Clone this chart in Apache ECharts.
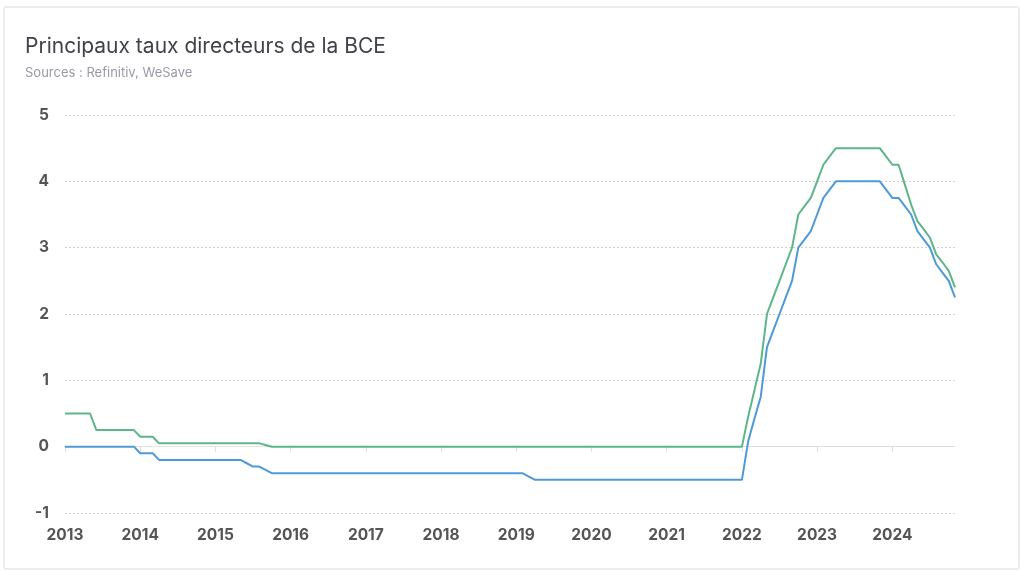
<!DOCTYPE html>
<html>
<head>
<meta charset="utf-8">
<script src="https://cdn.jsdelivr.net/npm/echarts@6/dist/echarts.min.js"></script>
<style>
	html, body { margin: 0; padding: 0; background: #fff; }
	#cadre { position: absolute; left: 3px; top: 6px; width: 1013px; height: 560px;
		border: 2px solid #ececec; border-radius: 3px; }
	#main { position: absolute; left: 0; top: 0; width: 1024px; height: 571px; }
</style>
</head>
<body>
<div id="cadre"></div>
<div id="main"></div>
<script>
var annees = ['2013', '2014', '2015', '2016', '2017', '2018', '2019', '2020', '2021', '2022', '2023', '2024'];
var mois = ['01', '02', '03', '04', '05', '06', '07', '08', '09', '10', '11', '12'];
var nbMois = 143; // janv. 2013 -> nov. 2024

// taux de refinancement (vert)
var tauxRefi = [
	0.5, 0.5, 0.5, 0.5, 0.5, 0.25, 0.25, 0.25, 0.25, 0.25, 0.25, 0.25,
	0.15, 0.15, 0.15, 0.05, 0.05, 0.05, 0.05, 0.05, 0.05, 0.05, 0.05, 0.05,
	0.05, 0.05, 0.05, 0.05, 0.05, 0.05, 0.05, 0.05, 0.025, 0, 0, 0,
	0, 0, 0, 0, 0, 0, 0, 0, 0, 0, 0, 0,
	0, 0, 0, 0, 0, 0, 0, 0, 0, 0, 0, 0,
	0, 0, 0, 0, 0, 0, 0, 0, 0, 0, 0, 0,
	0, 0, 0, 0, 0, 0, 0, 0, 0, 0, 0, 0,
	0, 0, 0, 0, 0, 0, 0, 0, 0, 0, 0, 0,
	0, 0, 0, 0, 0, 0, 0, 0, 0, 0, 0, 0,
	0, 0.45, 0.85, 1.25, 2.0, 2.25, 2.5, 2.75, 3.0, 3.5, 3.625, 3.75,
	4.0, 4.25, 4.375, 4.5, 4.5, 4.5, 4.5, 4.5, 4.5, 4.5, 4.5, 4.375,
	4.25, 4.25, 3.95, 3.65, 3.4, 3.28, 3.15, 2.9, 2.78, 2.65, 2.4
];

// taux de depot (bleu)
var tauxDepot = [
	0, 0, 0, 0, 0, 0, 0, 0, 0, 0, 0, 0,
	-0.1, -0.1, -0.1, -0.2, -0.2, -0.2, -0.2, -0.2, -0.2, -0.2, -0.2, -0.2,
	-0.2, -0.2, -0.2, -0.2, -0.2, -0.25, -0.3, -0.3, -0.35, -0.4, -0.4, -0.4,
	-0.4, -0.4, -0.4, -0.4, -0.4, -0.4, -0.4, -0.4, -0.4, -0.4, -0.4, -0.4,
	-0.4, -0.4, -0.4, -0.4, -0.4, -0.4, -0.4, -0.4, -0.4, -0.4, -0.4, -0.4,
	-0.4, -0.4, -0.4, -0.4, -0.4, -0.4, -0.4, -0.4, -0.4, -0.4, -0.4, -0.4,
	-0.4, -0.4, -0.45, -0.5, -0.5, -0.5, -0.5, -0.5, -0.5, -0.5, -0.5, -0.5,
	-0.5, -0.5, -0.5, -0.5, -0.5, -0.5, -0.5, -0.5, -0.5, -0.5, -0.5, -0.5,
	-0.5, -0.5, -0.5, -0.5, -0.5, -0.5, -0.5, -0.5, -0.5, -0.5, -0.5, -0.5,
	-0.5, 0.08, 0.42, 0.75, 1.5, 1.75, 2.0, 2.25, 2.5, 3.0, 3.125, 3.25,
	3.5, 3.75, 3.875, 4.0, 4.0, 4.0, 4.0, 4.0, 4.0, 4.0, 4.0, 3.875,
	3.75, 3.75, 3.625, 3.5, 3.25, 3.125, 3.0, 2.75, 2.625, 2.5, 2.25
];

var yTicks = { min: -1, max: 5, interval: 1 };

var categories = [];
for (let i = 0; i < nbMois; i++) {
	categories.push(annees[Math.floor(i / 12)] + '-' + mois[i % 12]);
}

var couleurTexte = '#555555';
var police = 'Inter, "Noto Sans", sans-serif';

var graphique = {
	animation: false,
	title: {
		text: 'Principaux taux directeurs de la BCE',
		subtext: 'Sources : Refinitiv, WeSave',
		left: 20,
		top: 31,
		itemGap: 10,
		textStyle: {
			fontFamily: police,
			fontSize: 21,
			fontWeight: 'normal',
			color: '#41414c'
		},
		subtextStyle: {
			fontFamily: police,
			fontSize: 13,
			color: '#9a9aa6'
		}
	},
	grid: {
		left: 65,
		right: 69,
		top: 115,
		bottom: 58
	},
	xAxis: [{
		type: 'category',
		data: categories,
		boundaryGap: false,
		axisLine: {
			onZero: true,
			lineStyle: { color: '#e2e2e2', width: 1 }
		},
		axisTick: {
			show: true,
			interval: 11,
			length: 5,
			lineStyle: { color: '#dcdcdc' }
		},
		axisLabel: { show: false },
		splitLine: { show: false }
	}, {
		type: 'category',
		data: categories,
		position: 'bottom',
		boundaryGap: false,
		axisLine: { show: false, onZero: false },
		axisTick: { show: false },
		axisLabel: {
			interval: 11,
			margin: 14,
			fontFamily: police,
			fontSize: 15.5,
			fontWeight: 'bold',
			color: couleurTexte,
			formatter: function (v) { return v.substring(0, 4); }
		},
		splitLine: { show: false }
	}],
	yAxis: {
		type: 'value',
		min: yTicks.min,
		max: yTicks.max,
		interval: yTicks.interval,
		axisLine: { show: false },
		axisTick: { show: false },
		axisLabel: {
			margin: 16,
			fontFamily: police,
			fontSize: 15.5,
			fontWeight: 'bold',
			color: couleurTexte
		},
		splitLine: {
			lineStyle: { color: '#d2d2d2', type: [2, 2], width: 1 }
		}
	},
	series: [{
		name: 'Taux de dépôt',
		type: 'line',
		data: tauxDepot,
		showSymbol: false,
		symbol: 'none',
		lineStyle: { color: '#4e9ad8', width: 2 },
		itemStyle: { color: '#4e9ad8' }
	}, {
		name: 'Taux de refinancement',
		type: 'line',
		data: tauxRefi,
		showSymbol: false,
		symbol: 'none',
		lineStyle: { color: '#5db68a', width: 2 },
		itemStyle: { color: '#5db68a' }
	}]
};

var myChart = echarts.init(document.getElementById('main'));
myChart.setOption(graphique);
</script>
</body>
</html>
